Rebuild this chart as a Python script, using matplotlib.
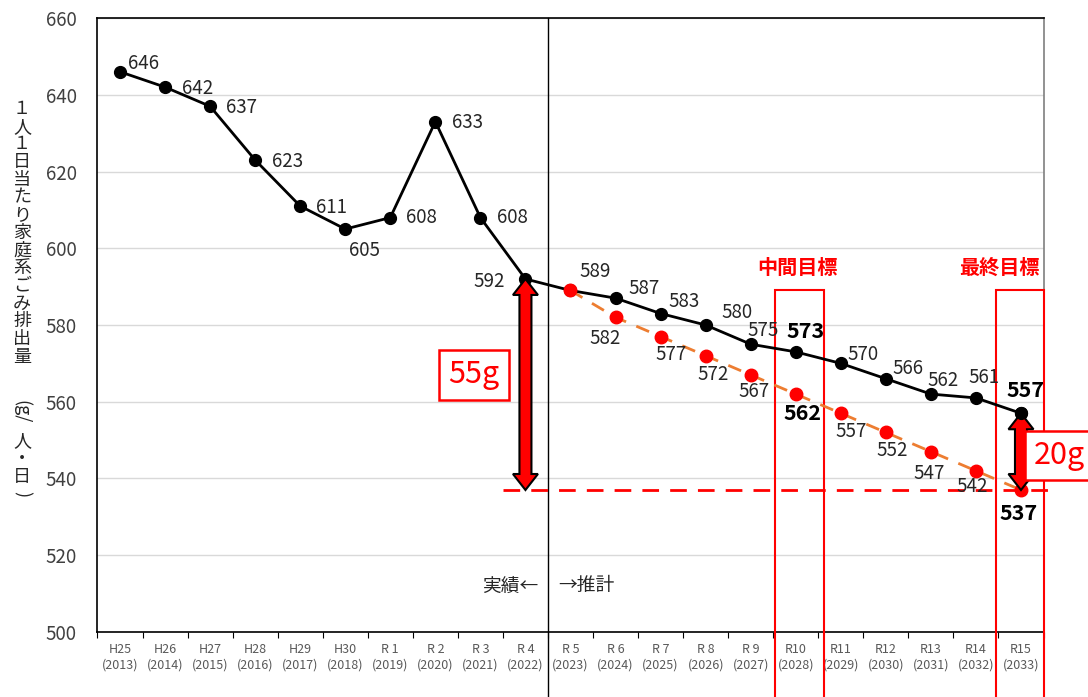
import numpy as np
import matplotlib
matplotlib.use("Agg")
import matplotlib.pyplot as plt
from matplotlib.patches import Rectangle, Polygon

plt.rcParams['font.family'] = ['Noto Sans CJK JP', 'DejaVu Sans']

# data
years = ["H25", "H26", "H27", "H28", "H29", "H30", "R 1", "R 2", "R 3", "R 4",
         "R 5", "R 6", "R 7", "R 8", "R 9", "R10", "R11", "R12", "R13", "R14", "R15"]
seireki = [str(y) for y in range(2013, 2034)]
actual = [646, 642, 637, 623, 611, 605, 608, 633, 608, 592,
          589, 587, 583, 580, 575, 573, 570, 566, 562, 561, 557]
target = [589, 582, 577, 572, 567, 562, 557, 552, 547, 542, 537]
target_start = 10
goal_value = 537
mid_idx = 15
final_idx = 20
base_idx = 9

# label offsets (pixels) for each point
act_off = [(8, 8, 'left'), (17, -1, 'left'), (16, -1, 'left'), (17, -1, 'left'),
           (16, -1, 'left'), (19, -21, 'center'), (16, 0, 'left'), (17, -1, 'left'),
           (17, 0, 'left'), (-20, -3, 'right'), (25, 19, 'center'), (29, 10, 'center'),
           (23, 12, 'center'), (31, 13, 'center'), (12, 14, 'center'), (10, 20, 'center'),
           (22, 9, 'center'), (22, 10, 'center'), (12, 14, 'center'), (8, 20, 'center'),
           (5, 23, 'center')]
tgt_off = [None, (-10, -21), (10, -18), (8, -19), (3, -17), (7, -19),
           (10, -18), (6, -18), (-2, -22), (-4, -16), (-2, -23)]

fig = plt.figure(figsize=(10.88, 6.97), dpi=100)
ax = fig.add_axes([0.0896, 0.0933, 0.8695, 0.8808])

x = np.arange(len(years))
xt = x[target_start:]

ax.set_xlim(-0.5, len(years) - 0.5)
ax.set_ylim(500, 660)
ax.set_yticks(np.arange(500, 661, 20))
ax.yaxis.grid(True, color='#d9d9d9', lw=1)
ax.set_axisbelow(True)
ax.tick_params(axis='y', length=0, pad=15, labelsize=13.5, labelcolor='#404040')
ax.set_xticks(np.arange(-0.5, len(years), 1))
ax.set_xticklabels([])
ax.set_xticks(x, minor=True)
ax.set_xticklabels([f"{a}\n({b})" for a, b in zip(years, seireki)], minor=True)
ax.tick_params(axis='x', which='major', length=4, direction='out', color='black')
ax.tick_params(axis='x', which='minor', length=0, pad=8, labelsize=9,
               labelcolor='#595959')
for s in ax.spines.values():
    s.set_color('black')
    s.set_linewidth(1.2)
ax.spines['right'].set_color('#7f7f7f')

# divider line between actual and forecast
ax.plot([base_idx + 0.5] * 2, [660, 470], color='black', lw=1, clip_on=False, zorder=2)

# goal level dashed line
ax.plot([base_idx - 0.5, final_idx + 0.6], [goal_value] * 2, color='red', lw=2,
        dashes=(6, 4), clip_on=False, zorder=2)

# target boxes
for i, lo, hi in [(mid_idx, -0.45, 0.62), (final_idx, -0.55, 0.5)]:
    ax.add_patch(Rectangle((i + lo, 470), hi - lo, 589 - 470, fill=False,
                           ec='red', lw=1.5, clip_on=False, zorder=3))
ax.text(mid_idx + 0.04, 595, "中間目標", color='red', fontsize=14.5, fontweight='bold',
        ha='center', va='center')
ax.text(final_idx - 0.47, 595, "最終目標", color='red', fontsize=14.5, fontweight='bold',
        ha='center', va='center')

# series
ax.plot(x, actual, color='black', lw=2, marker='o', ms=8.5, zorder=5)
ax.plot(xt, target, color='#ED7D31', lw=2, dashes=(5, 4), zorder=6)
ax.plot(xt, target, ls='none', marker='o', ms=9, color='red', zorder=7)
ax.plot(x[-1], actual[-1], marker='o', ms=8.5, color='black', zorder=9)

for i, v in enumerate(actual):
    dx, dy, ha = act_off[i]
    bold = i in (mid_idx, final_idx)
    ax.annotate(str(v), (x[i], v), xytext=(dx, dy), textcoords='offset pixels',
                ha=ha, va='center', fontsize=15.5 if bold else 13.5,
                fontweight='bold' if bold else 'normal',
                color='black' if bold else '#262626', zorder=10)
for j, v in enumerate(target):
    if tgt_off[j] is None:
        continue
    dx, dy = tgt_off[j]
    i = target_start + j
    bold = i in (mid_idx, final_idx)
    ax.annotate(str(v), (x[i], v), xytext=(dx, dy), textcoords='offset pixels',
                ha='center', va='center', fontsize=15.5 if bold else 13.5,
                fontweight='bold' if bold else 'normal',
                color='black' if bold else '#262626', zorder=10)

# double arrows
fig.canvas.draw()
bb = ax.get_window_extent()
px_x = (ax.get_xlim()[1] - ax.get_xlim()[0]) / bb.width
px_y = (ax.get_ylim()[1] - ax.get_ylim()[0]) / bb.height


def double_arrow(xc, y0, y1):
    sw, hw, hl = 6 * px_x, 12.5 * px_x, 16 * px_y
    pts = [(xc, y0), (xc + hw, y0 + hl), (xc + sw, y0 + hl), (xc + sw, y1 - hl),
           (xc + hw, y1 - hl), (xc, y1), (xc - hw, y1 - hl), (xc - sw, y1 - hl),
           (xc - sw, y0 + hl), (xc - hw, y0 + hl)]
    ax.add_patch(Polygon(pts, closed=True, fc='red', ec='black', lw=1.5, zorder=8,
                         clip_on=False))


double_arrow(x[base_idx], goal_value, actual[base_idx])
double_arrow(x[final_idx], goal_value, actual[final_idx])

box = dict(boxstyle='square,pad=0.3', fc='white', ec='red', lw=1.8)
ax.text(7.86, 567, f"{actual[base_idx] - goal_value}g", color='red', fontsize=22,
        ha='center', va='center', bbox=box, zorder=11)
ax.text(20.85, 546, f"{actual[final_idx] - goal_value}g", color='red', fontsize=22,
        ha='center', va='center', bbox=box, zorder=11, clip_on=False)

ax.text(base_idx + 0.28, 512, "実績←", ha='right', va='center', fontsize=13.5,
        color='#262626')
ax.text(base_idx + 0.72, 512, "→推計", ha='left', va='center', fontsize=13.5,
        color='#262626')

# vertical y-axis title
H = 697.0
xl = 22 / 1088
ypx = 109
for ch in "１人１日当たり家庭系ごみ排出量":
    fig.text(xl, 1 - ypx / H, ch, ha='center', va='center', fontsize=13, color='#262626')
    ypx += 17.7
fig.text(xl, 1 - 412 / H, "(g/", ha='center', va='center', fontsize=13,
         rotation=-90, color='#262626')
for ch, yp in [("人", 441), ("・", 459), ("日", 477)]:
    fig.text(xl, 1 - yp / H, ch, ha='center', va='center', fontsize=13, color='#262626')
fig.text(xl, 1 - 494 / H, ")", ha='center', va='center', fontsize=13,
         rotation=-90, color='#262626')

fig.savefig("out.png", dpi=100)
